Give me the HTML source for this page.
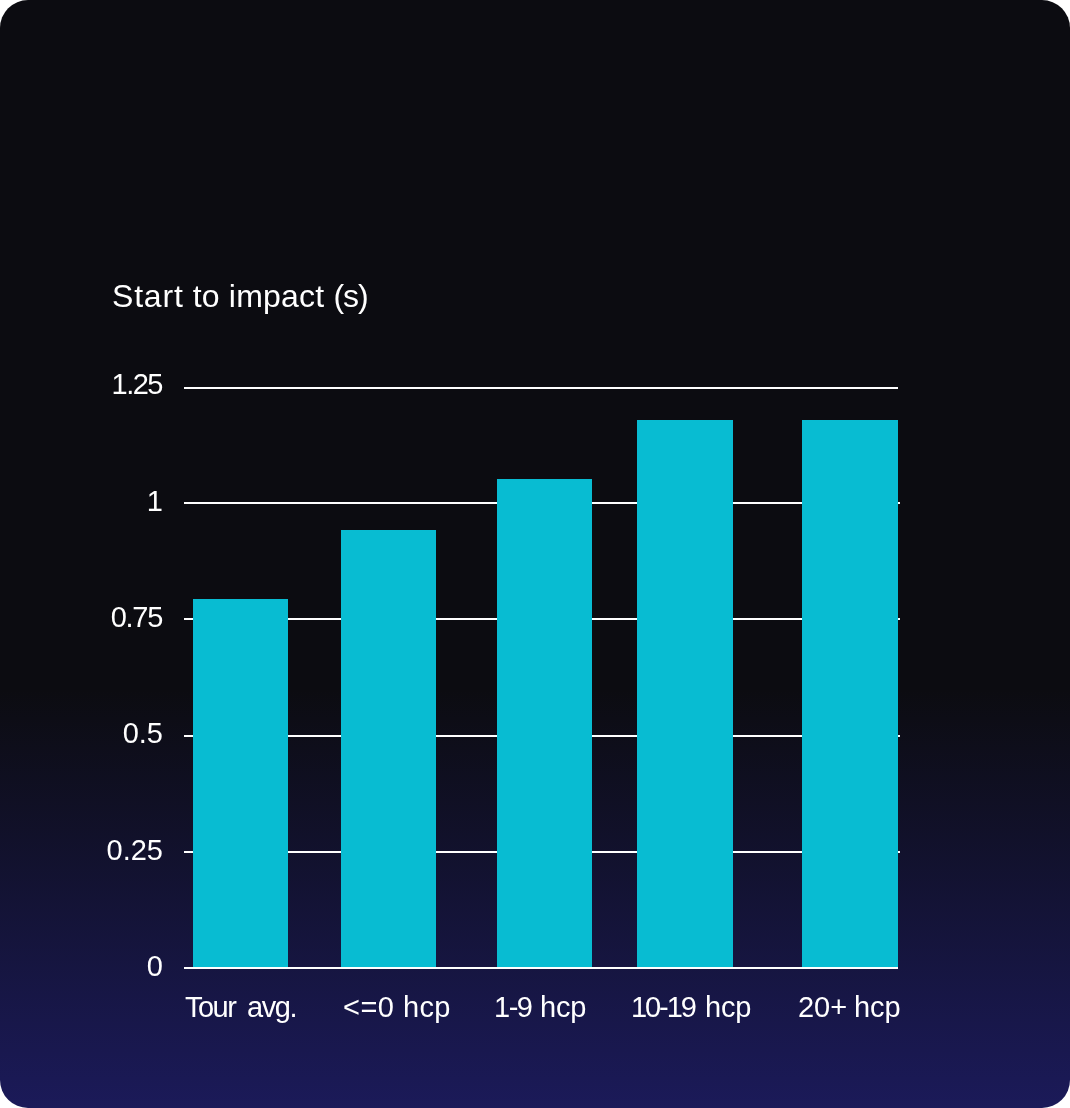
<!DOCTYPE html>
<html><head><meta charset="utf-8">
<style>
html,body{margin:0;padding:0;background:#ffffff;width:1070px;height:1108px;overflow:hidden;}
.card{position:absolute;left:0;top:0;width:1070px;height:1108px;border-radius:28px;overflow:hidden;
background:linear-gradient(180deg,#0c0c11 0px,#0c0c11 690px,#1b1a59 1108px);}
.t{position:absolute;will-change:transform;font-family:"Liberation Sans",sans-serif;color:#ffffff;white-space:pre;line-height:1;}
.title{left:112px;top:280px;font-size:32px;letter-spacing:0.2px;}
.yl{font-size:29px;text-align:right;width:80px;left:83px;}
.xl{font-size:29px;top:993px;}
.g{position:absolute;left:184px;width:716px;height:2px;background:#ffffff;}
.b{position:absolute;background:#08bcd2;}
</style></head><body>
<div class="card">
<div class="t title"><span style="letter-spacing:0.8px">Start</span> to impact <span style="letter-spacing:-1px">(s)</span></div>
<div class="g" style="top:387px;width:714px"></div>
<div class="g" style="top:502px"></div>
<div class="g" style="top:618px"></div>
<div class="g" style="top:734.5px"></div>
<div class="g" style="top:851px"></div>
<div class="t yl" style="top:370px;letter-spacing:-1.5px;left:81.5px">1.25</div>
<div class="t yl" style="top:486.5px">1</div>
<div class="t yl" style="top:603px;letter-spacing:-1.3px;left:81.5px">0.75</div>
<div class="t yl" style="top:719.3px">0.5</div>
<div class="t yl" style="top:835.5px">0.25</div>
<div class="t yl" style="top:951.7px">0</div>
<div class="b" style="left:193px;width:95px;top:599px;height:370px"></div>
<div class="b" style="left:340.5px;width:95.5px;top:529.5px;height:439.5px"></div>
<div class="b" style="left:496.7px;width:95.7px;top:479px;height:490px"></div>
<div class="b" style="left:637px;width:96px;top:420px;height:549px"></div>
<div class="b" style="left:802.3px;width:95.8px;top:420px;height:549px"></div>
<div class="g" style="top:967px;width:714px"></div>
<div class="t xl" style="left:184.96px;letter-spacing:-1.52px">Tour</div>
<div class="t xl" style="left:246.54px;letter-spacing:-1.39px">avg.</div>
<div class="t xl" style="left:343.26px;letter-spacing:0.48px">&lt;=0</div>
<div class="t xl" style="left:402.74px;letter-spacing:0.28px">hcp</div>
<div class="t xl" style="left:493.84px;letter-spacing:-1.48px">1-9</div>
<div class="t xl" style="left:540.36px;letter-spacing:-0.16px">hcp</div>
<div class="t xl" style="left:631.46px;letter-spacing:-2.08px">10-19</div>
<div class="t xl" style="left:704.98px;letter-spacing:-0.16px">hcp</div>
<div class="t xl" style="left:797.54px;letter-spacing:-0.04px">20+</div>
<div class="t xl" style="left:854.32px;letter-spacing:-0.04px">hcp</div>
</div>
</body></html>
